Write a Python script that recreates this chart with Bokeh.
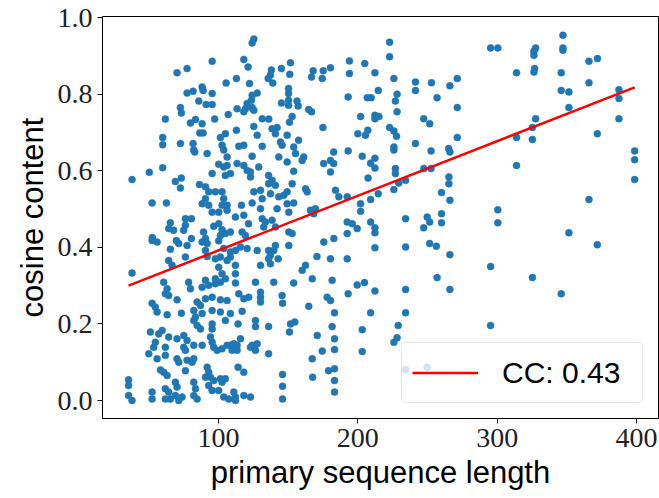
from bokeh.plotting import figure
from bokeh.models import Legend, LegendItem, FixedTicker
from bokeh.embed import file_html
from bokeh.resources import INLINE

# primary sequence length (x) and cosine content (y) of each structure
seq_len = [
    95.5, 70.3, 77.5, 105.5, 77.5, 81.8, 88.3, 89, 95.5, 85.9,
    91.2, 95.5, 72.7, 73.4, 61.9, 97.3, 79.9, 83.5, 88.3, 86.6,
    89, 105, 101.4, 60, 60, 72.7, 81.8, 82.2, 102.6, 103.8,
    91.9,
    125.4, 124.2, 118.2, 121.3, 151.7, 145.2, 138, 137.3, 135.7, 139,
    151.2, 168, 166.8, 175.2, 174.5, 180.4, 194, 194, 112.9, 122.3,
    127.8, 124.2, 123.7, 150.3, 150.3, 150.3, 150.3, 145.2, 156.4, 157.2,
    164.8, 166.8, 193.1, 120.6, 119.4, 124.2, 125.4, 118.2, 113.4, 107,
    131.4, 136.1, 152.9, 151, 125.4, 138.5, 142.1, 140.9, 112.9, 127.8,
    149.3, 175, 144.5, 145.7, 157.5, 154, 114.6, 118.2, 131.4, 193.1,
    83, 100.2, 38, 50.4, 60, 69.1, 73.4, 72.7, 95.5, 86.4,
    90.7, 103.8, 105, 93, 97.8, 102.6, 103.8, 102.6, 100.2, 95.5,
    93, 90.7, 52.4, 62.7, 88.3, 76.3, 80.6, 65.5, 64.3, 67.8,
    75, 76.3, 89.3, 96.6, 100.2, 102.6, 105, 101.4, 52.6, 52.4,
    56, 69.8, 71.5, 80.6, 77.5, 90.7, 88.3, 91.9, 65.5, 100.2,
    103.8, 101.4, 97.8, 64.3, 66.7, 76.3, 38, 90.7, 91.9, 100.2,
    102.6, 97.8, 101.4, 105, 78.6, 90.7,
    106.2, 106.2, 108.6, 124.2, 113.4, 118.2, 120.6, 123, 123, 128.9,
    143.3, 149.3, 155.3, 161.2, 160.1, 182.7, 175.5, 180.4, 182.7, 180.4,
    154, 136, 138.5, 140.9, 136, 152.9, 162.5, 163.7, 125.4, 130.2,
    131.4, 137.3, 143.3, 146.9, 149.3, 184, 186.4, 192.4, 106.2, 106.2,
    116.5, 124.2, 130.2, 142.1, 149.3, 154, 150.5, 112.2, 118.2, 131.4,
    133.7, 132.5, 138.5, 140.9, 166, 168.4, 169.6, 192.4, 121.6, 108.6,
    117, 119.4, 150.5, 152.9, 192.4, 127.8, 136, 140.9, 139.7, 137.3,
    120.6, 115.8, 112.2, 108.6, 150.5, 142.9, 136, 130.2, 137.3, 112.2,
    108.6, 106.2, 170.7, 180.4, 175.6, 182.8, 192.4, 162.5, 160.1, 126.6,
    139.7, 167.3, 181.6, 112.2,
    60.7, 63.2, 64.3, 61.9, 70.3, 52.4, 54.7, 56, 63.2, 73.4,
    79.9, 88.3, 93, 97.8, 84.7, 87.1, 90.7, 95.5, 101.4, 106.2,
    82.3, 83.5, 88.3, 95.5, 101.4, 82.3, 84.7, 87.1, 95.5, 95.5,
    105, 51.2, 57.1, 59.6, 64.3, 70.3, 54.7, 53.5, 61.9, 75.1,
    77.5, 75.1, 76.3, 82.3, 88.3, 94.3, 95.5, 96.6, 99.1, 102.6,
    106.2, 50, 56, 61.9, 70.3, 71.5, 77.5, 82.3, 81.1, 58.4,
    60.7, 63.2, 76.3, 91.9, 93, 90.7, 94.3, 96.6, 101.4, 102.6,
    35.5, 35.5, 52.4, 52.4, 61.9, 64.3, 61.9, 65.5, 69.1, 70.3,
    69.1, 73.9, 71.5, 82.3, 83.5, 82.3, 84.7, 35.5, 38, 93,
    95.5, 100.2, 103.8, 107.4,
    112.2, 154, 193.1, 114.6, 118.2, 121.7, 130.2, 130.2, 130.2, 145.7,
    146, 164.8, 178, 180.4, 108.6, 117, 114.1, 126.6, 126.6, 136,
    151.7, 154.8, 151, 170.9, 108.6, 111, 113.4, 115.8, 109.8, 113.4,
    124.2, 127.8, 126.6, 123, 136, 174.5, 167.3, 114.1, 118.2, 146,
    146, 146, 167.6, 179, 105, 111, 112.2, 112.2, 118.2, 123,
    205, 212.3, 222.8, 222.8, 225.9, 214.7, 228.2, 227, 228.2, 241.4,
    241.4, 252.9, 266.1, 271.4, 256.9, 271.4, 206.8, 209.6, 202, 212.3,
    212.3, 215.2, 222.8, 225.9, 227.8, 241.4, 247.3, 251.6, 271.4, 200,
    205.5, 207.2, 225.9, 225.9, 252.6, 265.2, 266.1, 203.2, 212.3, 209.2,
    212.3, 207.4, 227, 227, 229.4, 225.9, 234.3, 247.4, 252.6, 265.4,
    265.4, 214.7, 209.2, 260.1, 266.1, 202, 202, 234.3, 249.8, 251.6,
    247.3, 260.1, 260.1, 196, 199.6, 209.2, 212.3, 212.3, 212.3, 234.3,
    251.6, 256.4, 295.3, 300.5, 313.9, 327.6, 326.4, 326.4, 326.9, 326.4,
    347.2, 347.2, 347.2, 346, 346, 351.5, 351.5, 365.9, 372, 365.9,
    387.4, 387.4, 387.4, 371.9, 327.6, 325.3, 325.3, 313.9, 313.9, 398.7,
    398.7, 398.7, 300.5, 300.5, 365.9, 351.5, 371.9,
    295.3, 325.3, 346, 295.3, 256.9, 266.1, 266.1, 234.3, 234.3, 229,
    228.2, 225.9, 212.3, 209.2, 199.6, 204.8, 203.2, 203.2, 183.3, 181.6,
    183.3, 183.3, 183.3, 183.3, 183.3, 234.3, 249.8,
]

cos_content = [
    .886, .856, .867, .829, .803, .808, .819, .810, .802, .782,
    .773, .773, .765, .751, .735, .735, .725, .734, .723, .699,
    .699, .697, .687, .687, .668, .671, .671, .654, .667, .654,
    .645,
    .944, .934, .891, .871, .882, .867, .863, .850, .841, .829,
    .852, .861, .845, .861, .841, .869, .887, .854, .841, .828,
    .803, .797, .784, .815, .802, .784, .771, .777, .782, .769,
    .760, .754, .793, .776, .762, .765, .758, .754, .762, .747,
    .736, .735, .742, .727, .716, .710, .713, .697, .706, .693,
    .693, .713, .675, .667, .680, .662, .664, .667, .664, .652,
    .649, .617, .577, .596, .608, .572, .581, .555, .593, .564,
    .558, .610, .588, .545, .545, .545, .527, .510, .492, .492,
    .510, .527, .516, .516, .514, .475, .475, .464, .449, .445,
    .445, .458, .440, .455, .462, .446, .436, .431, .426, .418,
    .414, .418, .410, .423, .405, .423, .414, .410, .395, .417,
    .397, .375, .370, .366, .353, .375, .333, .392, .376, .348,
    .331, .318, .309, .318, .309, .314,
    .636, .614, .593, .638, .619, .614, .601, .597, .584, .610,
    .636, .623, .645, .636, .627, .649, .619, .627, .619, .597,
    .599, .588, .575, .562, .566, .566, .553, .545, .545, .549,
    .527, .540, .532, .536, .545, .549, .532, .532, .510, .497,
    .510, .516, .501, .501, .514, .516, .492, .479, .484, .475,
    .466, .453, .471, .453, .497, .488, .501, .466, .462, .440,
    .440, .431, .440, .436, .436, .392, .392, .405, .392, .379,
    .397, .401, .392, .388, .405, .370, .370, .353, .357, .353,
    .375, .366, .376, .370, .414, .423, .370, .353, .340, .309,
    .309, .318, .314, .331,
    .309, .292, .274, .279, .263, .254, .244, .231, .224, .228,
    .292, .296, .301, .305, .257, .248, .266, .270, .263, .261,
    .235, .218, .227, .235, .231, .209, .196, .187, .200, .187,
    .209, .179, .174, .183, .166, .161, .152, .139, .139, .170,
    .157, .139, .131, .144, .144, .166, .152, .139, .131, .135,
    .144, .122, .109, .118, .109, .100, .105, .109, .100, .080,
    .074, .065, .078, .087, .074, .061, .061, .052, .057, .048,
    .054, .039, .022, .004, .031, .022, .004, .004, .048, .035,
    .013, .009, .000, .048, .031, .013, .004, .013, .000, .039,
    .026, .026, .009, .004,
    .307, .307, .279, .279, .266, .270, .283, .270, .257, .274,
    .254, .246, .270, .261, .227, .233, .200, .209, .193, .193,
    .200, .205, .179, .170, .144, .148, .144, .161, .131, .131,
    .144, .148, .131, .139, .122, .129, .109, .087, .074, .068,
    .037, .004, .061, .078, .057, .022, .009, .000, .013, .009,
    .880, .856, .936, .898, .841, .810, .800, .782, .754, .832,
    .810, .830, .822, .841, .791, .765, .791, .791, .742, .745,
    .736, .742, .713, .704, .690, .671, .736, .723, .687, .697,
    .693, .706, .662, .654, .652, .658, .649, .638, .633, .620,
    .607, .581, .606, .593, .568, .551, .575, .606, .606, .584,
    .566, .540, .525, .543, .523, .514, .494, .475, .479, .466,
    .451, .488, .464, .462, .449, .466, .451, .438, .399, .401,
    .410, .403, .921, .921, .856, .921, .912, .902, .867, .858,
    .954, .921, .915, .856, .810, .806, .765, .886, .893, .830,
    .812, .789, .736, .697, .736, .713, .682, .687, .614, .652,
    .629, .577, .498, .464, .525, .438, .407,
    .350, .321, .279, .196, .321, .381, .290, .290, .229, .196,
    .164, .152, .286, .229, .302, .308, .185, .128, .229, .193,
    .161, .133, .083, .052, .022, .081, .087,
]

# least-squares fit line end points and correlation label
fit_x = [35.5, 398.7]
fit_y = [0.300, 0.818]
fit_label = "CC: 0.43"

x_ticks = [100, 200, 300, 400]
y_ticks = [0.0, 0.2, 0.4, 0.6, 0.8, 1.0]
y_tick_labels = ["0.0", "0.2", "0.4", "0.6", "0.8", "1.0"]

assert len(seq_len) == len(cos_content)

p = figure(width=659, height=498, x_range=(16.8, 415.8), y_range=(-0.047, 1.003),
           output_backend="svg", toolbar_location=None,
           min_border_left=102, min_border_right=1, min_border_top=16, min_border_bottom=80)
p.background_fill_color = "white"
p.border_fill_color = "white"
p.outline_line_color = "black"
p.outline_line_width = 1
p.xgrid.visible = False
p.ygrid.visible = False

p.scatter(seq_len, cos_content, marker="circle", size=7,
          fill_color="#1f77b4", line_color="#1f77b4", line_width=0.5)
r_fit = p.line(fit_x, fit_y, line_color="red", line_width=2.5)

p.xaxis.ticker = FixedTicker(ticks=x_ticks)
p.yaxis.ticker = FixedTicker(ticks=y_ticks)
p.yaxis.major_label_overrides = {t: l for t, l in zip(y_ticks, y_tick_labels)}
p.xaxis.axis_label = "primary sequence length"
p.yaxis.axis_label = "cosine content"

for ax in (p.xaxis, p.yaxis):
    ax.axis_line_color = "black"
    ax.major_tick_line_color = "black"
    ax.major_tick_out = 5
    ax.major_tick_in = 0
    ax.minor_tick_line_color = None
    ax.major_label_text_font = "Liberation Serif"
    ax.major_label_text_font_size = "28px"
    ax.major_label_text_color = "#222222"
    ax.axis_label_text_font = "Liberation Sans"
    ax.axis_label_text_font_size = "31px"
    ax.axis_label_text_font_style = "normal"
    ax.axis_label_text_color = "black"
    ax.major_label_standoff = 5
    ax.axis_label_standoff = 5

legend = Legend(items=[LegendItem(label=fit_label, renderers=[r_fit])],
                location="bottom_right")
legend.label_text_font = "Liberation Sans"
legend.label_text_font_size = "30px"
legend.label_text_color = "black"
legend.glyph_width = 66
legend.glyph_height = 39
legend.label_height = 39
legend.label_width = 130
legend.label_standoff = 24
legend.padding = 10
legend.margin = 15
legend.spacing = 0
legend.border_line_color = "#d0d0d0"
legend.border_line_width = 1
legend.background_fill_alpha = 0.8
if "border_radius" in Legend.properties():
    legend.border_radius = 5
p.add_layout(legend)

open("out.html", "w").write(file_html(p, INLINE))
